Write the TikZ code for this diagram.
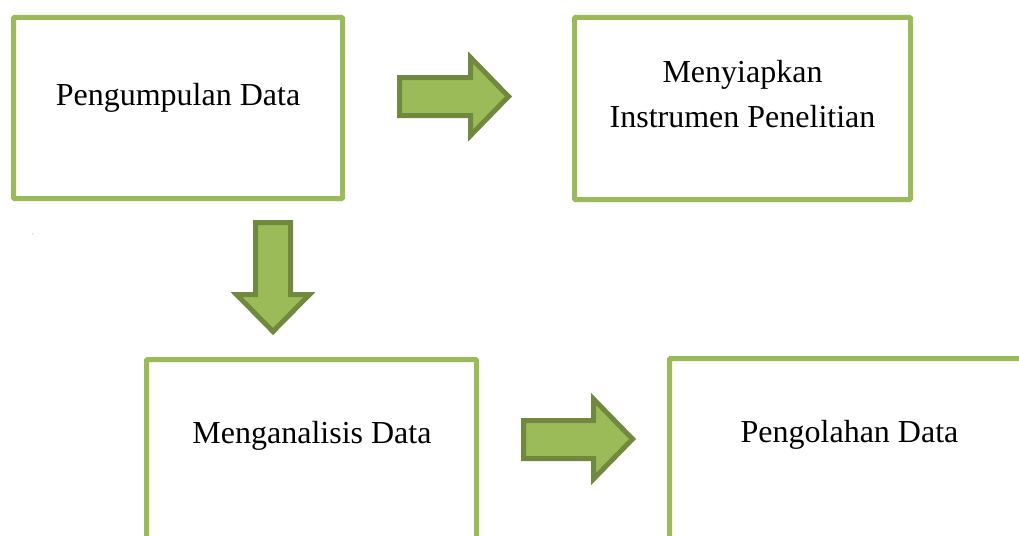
\documentclass[tikz,border=0pt]{standalone}
\usepackage{fontspec}
\setmainfont{Liberation Serif}
\definecolor{boxgreen}{HTML}{9BBB59}
\definecolor{arrowfill}{HTML}{9BBB59}
\definecolor{arrowline}{HTML}{71893F}
\begin{document}
\begin{tikzpicture}[x=1pt,y=-1pt,
  stepbox/.style={draw=boxgreen,line width=5pt,fill=white,inner sep=0pt,outer sep=0pt,rounded corners=1pt},
  lbl/.style={font=\fontsize{32}{45}\selectfont,inner sep=0pt,anchor=base,align=center},
  blockarrow/.style={fill=arrowfill,draw=arrowline,line width=5pt,line join=miter}]
\useasboundingbox (0,0) rectangle (1019,535);
\clip (0,0) rectangle (1019,535);
\node[stepbox,minimum width=329pt,minimum height=181pt] (b1) at (178,108) {};
\node[stepbox,minimum width=336pt,minimum height=182pt] (b2) at (742.5,108.5) {};
\node[stepbox,minimum width=330pt,minimum height=181pt] (b3) at (311.5,450) {};
\node[stepbox,minimum width=360pt,minimum height=181pt] (b4) at (849.5,449) {};
\node[lbl] (t1) at (178,105) {Pengumpulan Data};
\node[lbl] (t2) at (742.5,127) {Menyiapkan\\Instrumen Penelitian};
\node[lbl] (t3) at (312,443) {Menganalisis Data};
\node[lbl] (t4) at (849.5,442) {Pengolahan Data};
% block arrows
\draw[blockarrow] (399.5,77.5) -- (470.5,77.5) -- (470.5,57.5) -- (508.5,96.5) -- (470.5,135.5) -- (470.5,115.5) -- (399.5,115.5) -- cycle;
\draw[blockarrow] (255.5,222.5) -- (290.5,222.5) -- (290.5,294.5) -- (309.5,294.5) -- (273,331.5) -- (236.5,294.5) -- (255.5,294.5) -- cycle;
\draw[blockarrow] (523.5,420.5) -- (593.5,420.5) -- (593.5,399) -- (632.5,439) -- (593.5,479) -- (593.5,458.5) -- (523.5,458.5) -- cycle;
\fill[gray!70] (33,234) circle (0.7pt);
\end{tikzpicture}
\end{document}
